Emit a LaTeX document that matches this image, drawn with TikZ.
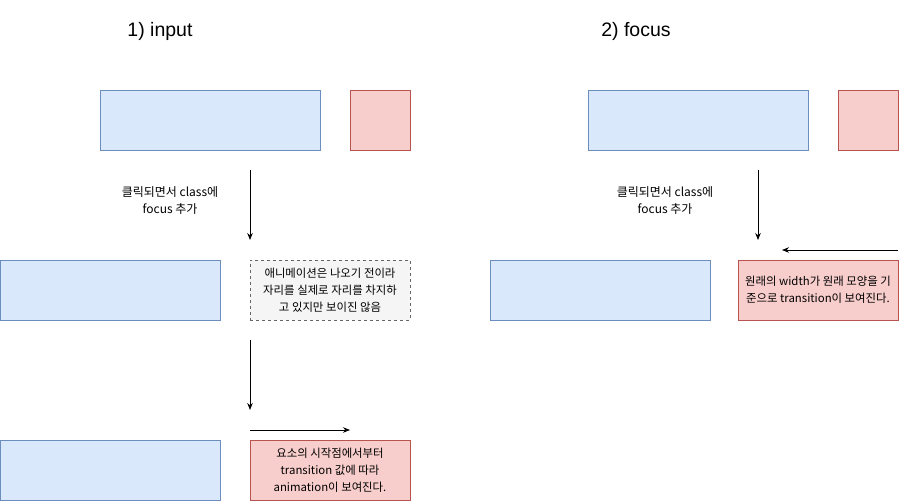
\documentclass[tikz,border=0pt]{standalone}
\usepackage{fontspec}
\setmainfont{Liberation Sans}
\newfontfamily\krfont{Noto Sans CJK KR}
\usetikzlibrary{arrows.meta}
\definecolor{blueFill}{HTML}{DAE8FC}
\definecolor{blueLine}{HTML}{6C8EBF}
\definecolor{redFill}{HTML}{F8CECC}
\definecolor{redLine}{HTML}{B85450}
\definecolor{grayFill}{HTML}{F5F5F5}
\definecolor{grayLine}{HTML}{666666}

\begin{document}
\begin{tikzpicture}[
    x=1pt, y=-1pt,
    every node/.style={inner sep=0pt, outer sep=0pt},
    bluebox/.style={draw=blueLine, fill=blueFill, minimum width=220pt, minimum height=60pt, anchor=north west, line width=0.8pt},
    redsq/.style={draw=redLine, fill=redFill, minimum width=60pt, minimum height=60pt, anchor=north west, line width=0.8pt},
    notebox/.style={minimum width=160pt, minimum height=60pt, anchor=north west, align=center, line width=0.8pt, font=\krfont\fontsize{11.4}{17}\selectfont},
    rednote/.style={notebox, draw=redLine, fill=redFill},
    graynote/.style={notebox, draw=grayLine, fill=grayFill, dashed},
    steplabel/.style={align=center, font=\krfont\fontsize{12}{17}\selectfont},
    title/.style={font=\fontsize{19.5}{22}\selectfont},
    flow/.style={-{Stealth[length=7pt, width=5.5pt]}, line width=0.8pt},
]
\useasboundingbox (0,0) rectangle (907,501);

% Titles
\node[title] (tIn) at (160,31) {1) input};
\node[title] (tFocus) at (636,31) {2) focus};

% ================= 1) input =================
\node[bluebox] (inA) at (100,90) {};
\node[redsq] (inRed) at (350,90) {};

\coordinate (inS1) at (250,170);
\coordinate (inE1) at (250,240);
\draw[flow] (inS1) -- (inE1);
\node[steplabel] (inLbl) at (170,201) {클릭되면서 class에\\focus 추가};

\node[bluebox] (inB) at (0,260) {};
\node[graynote] (inWait) at (250,260) {애니메이션은 나오기 전이라\\자리를 실제로 자리를 차지하\\고 있지만 보이진 않음};

\coordinate (inS2) at (250,340);
\coordinate (inE2) at (250,410);
\draw[flow] (inS2) -- (inE2);

\coordinate (inS3) at (250,430);
\coordinate (inE3) at (350,430);
\draw[flow] (inS3) -- (inE3);

\node[bluebox] (inC) at (0,440) {};
\node[rednote] (inAnim) at (250,440) {요소의 시작점에서부터\\transition 값에 따라\\animation이 보여진다.};

% ================= 2) focus =================
\node[bluebox] (fcA) at (588,90) {};
\node[redsq] (fcRed) at (838,90) {};

\coordinate (fcS1) at (758,170);
\coordinate (fcE1) at (758,240);
\draw[flow] (fcS1) -- (fcE1);
\node[steplabel] (fcLbl) at (665,201) {클릭되면서 class에\\focus 추가};

\node[bluebox] (fcB) at (490,260) {};
\node[rednote] (fcAnim) at (738,260) {원래의 width가 원래 모양을 기\\준으로 transition이 보여진다.};

\coordinate (fcS2) at (898,250);
\coordinate (fcE2) at (782,250);
\draw[flow] (fcS2) -- (fcE2);

\end{tikzpicture}
\end{document}
